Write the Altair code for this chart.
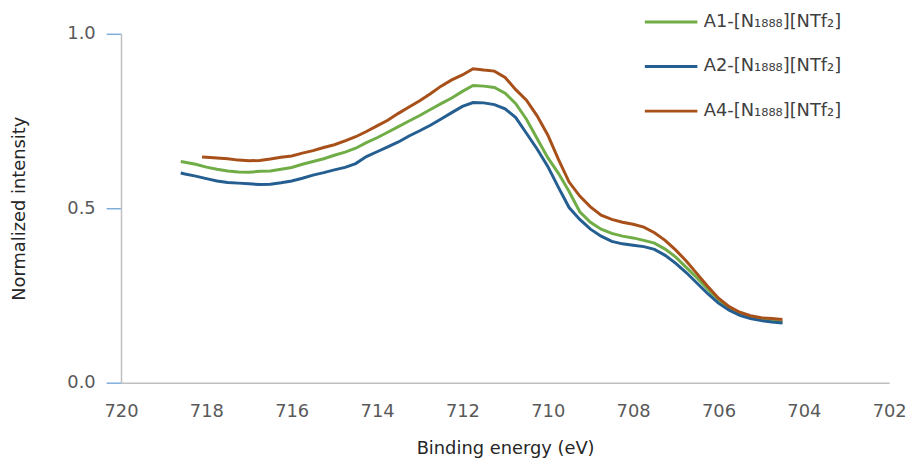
import altair as alt
import pandas as pd

x_a1 = [718.6] + [718.5 - 0.25 * i for i in range(57)]
y_a1 = [0.634,
        0.632, 0.626, 0.618, 0.612, 0.607, 0.604, 0.603, 0.606, 0.607, 0.612,
        0.617, 0.626, 0.634, 0.642, 0.652, 0.661, 0.672, 0.688, 0.702, 0.718,
        0.734, 0.750, 0.766, 0.783, 0.800, 0.816, 0.835, 0.852, 0.850, 0.846,
        0.830, 0.800, 0.755, 0.700, 0.645, 0.600, 0.548, 0.490, 0.460, 0.440,
        0.428, 0.420, 0.415, 0.408, 0.400, 0.383, 0.360, 0.330, 0.300, 0.268,
        0.238, 0.214, 0.198, 0.188, 0.181, 0.177, 0.174]

x_a2 = [718.6] + [718.5 - 0.25 * i for i in range(57)]
y_a2 = [0.601,
        0.598, 0.592, 0.585, 0.578, 0.574, 0.572, 0.570, 0.568, 0.569, 0.573,
        0.578, 0.586, 0.595, 0.602, 0.610, 0.617, 0.628, 0.648, 0.662, 0.676,
        0.690, 0.707, 0.722, 0.738, 0.756, 0.774, 0.792, 0.803, 0.802, 0.797,
        0.785, 0.760, 0.715, 0.670, 0.620, 0.560, 0.502, 0.468, 0.440, 0.420,
        0.405, 0.398, 0.394, 0.390, 0.382, 0.365, 0.342, 0.315, 0.285, 0.255,
        0.228, 0.208, 0.193, 0.184, 0.178, 0.174, 0.171]

x_a4 = [718.1] + [718.0 - 0.25 * i for i in range(55)]
y_a4 = [0.647,
        0.646, 0.644, 0.642, 0.638, 0.636, 0.637, 0.641, 0.646, 0.650, 0.658,
        0.665, 0.674, 0.682, 0.693, 0.705, 0.720, 0.736, 0.752, 0.772, 0.790,
        0.808, 0.828, 0.850, 0.868, 0.882, 0.900, 0.896, 0.893, 0.875, 0.840,
        0.810, 0.765, 0.710, 0.640, 0.575, 0.535, 0.504, 0.480, 0.468, 0.460,
        0.454, 0.446, 0.430, 0.408, 0.380, 0.348, 0.312, 0.276, 0.242, 0.218,
        0.202, 0.192, 0.186, 0.184, 0.181]

series_names = ["A1-[N₁₈₈₈][NTf₂]", "A2-[N₁₈₈₈][NTf₂]", "A4-[N₁₈₈₈][NTf₂]"]
series_colors = ["#70AD47", "#255E91", "#A8501A"]
x_ticks = [720, 718, 716, 714, 712, 710, 708, 706, 704, 702]
y_ticks = [0.0, 0.5, 1.0]

rows = []
for name, xs, ys in zip(series_names, [x_a1, x_a2, x_a4], [y_a1, y_a2, y_a4]):
    for i, (xv, yv) in enumerate(zip(xs, ys)):
        rows.append({"series": name, "x": xv, "y": yv, "order": i})
df = pd.DataFrame(rows)

FONT = "DejaVu Sans"

chart = alt.Chart(df).mark_line(strokeWidth=3).encode(
    x=alt.X("x:Q",
            scale=alt.Scale(domain=[720, 702], nice=False, zero=False),
            axis=alt.Axis(values=x_ticks, title="Binding energy (eV)", grid=False,
                          ticks=False, labelPadding=20,
                          titleY=66, titleBaseline="middle",
                          format="d", labelFlush=False)),
    y=alt.Y("y:Q",
            scale=alt.Scale(domain=[0, 1], nice=False),
            axis=alt.Axis(values=y_ticks, title="Normalized intensity", grid=False,
                          format=".1f", tickSize=15, labelPadding=11,
                          titleX=-102, titleY=176, titleAngle=270,
                          titleAlign="center", titleBaseline="middle",
                          tickColor="#7FAEDB", tickWidth=1.5)),
    color=alt.Color("series:N",
                    scale=alt.Scale(domain=series_names, range=series_colors),
                    legend=alt.Legend(title=None, orient="none", legendX=527, legendY=-40,
                                      padding=0,
                                      symbolType="stroke", symbolSize=2809,
                                      symbolStrokeWidth=3, rowPadding=8,
                                      labelFontSize=18, labelFont=FONT,
                                      labelColor="#404040", labelOffset=5)),
    order="order:Q",
).properties(
    width=775, height=352,
    autosize="none",
    padding={"left": 114, "top": 24, "right": 21, "bottom": 82},
).configure_view(stroke=None).configure_axis(
    domainColor="#BFBFBF", domainWidth=1.5,
    labelFont=FONT, titleFont=FONT, labelFontSize=18, titleFontSize=18,
    labelColor="#595959", titleColor="#262626", titleFontWeight="normal",
)

chart.save("out.html", embed_options={"renderer": "svg", "actions": False})
